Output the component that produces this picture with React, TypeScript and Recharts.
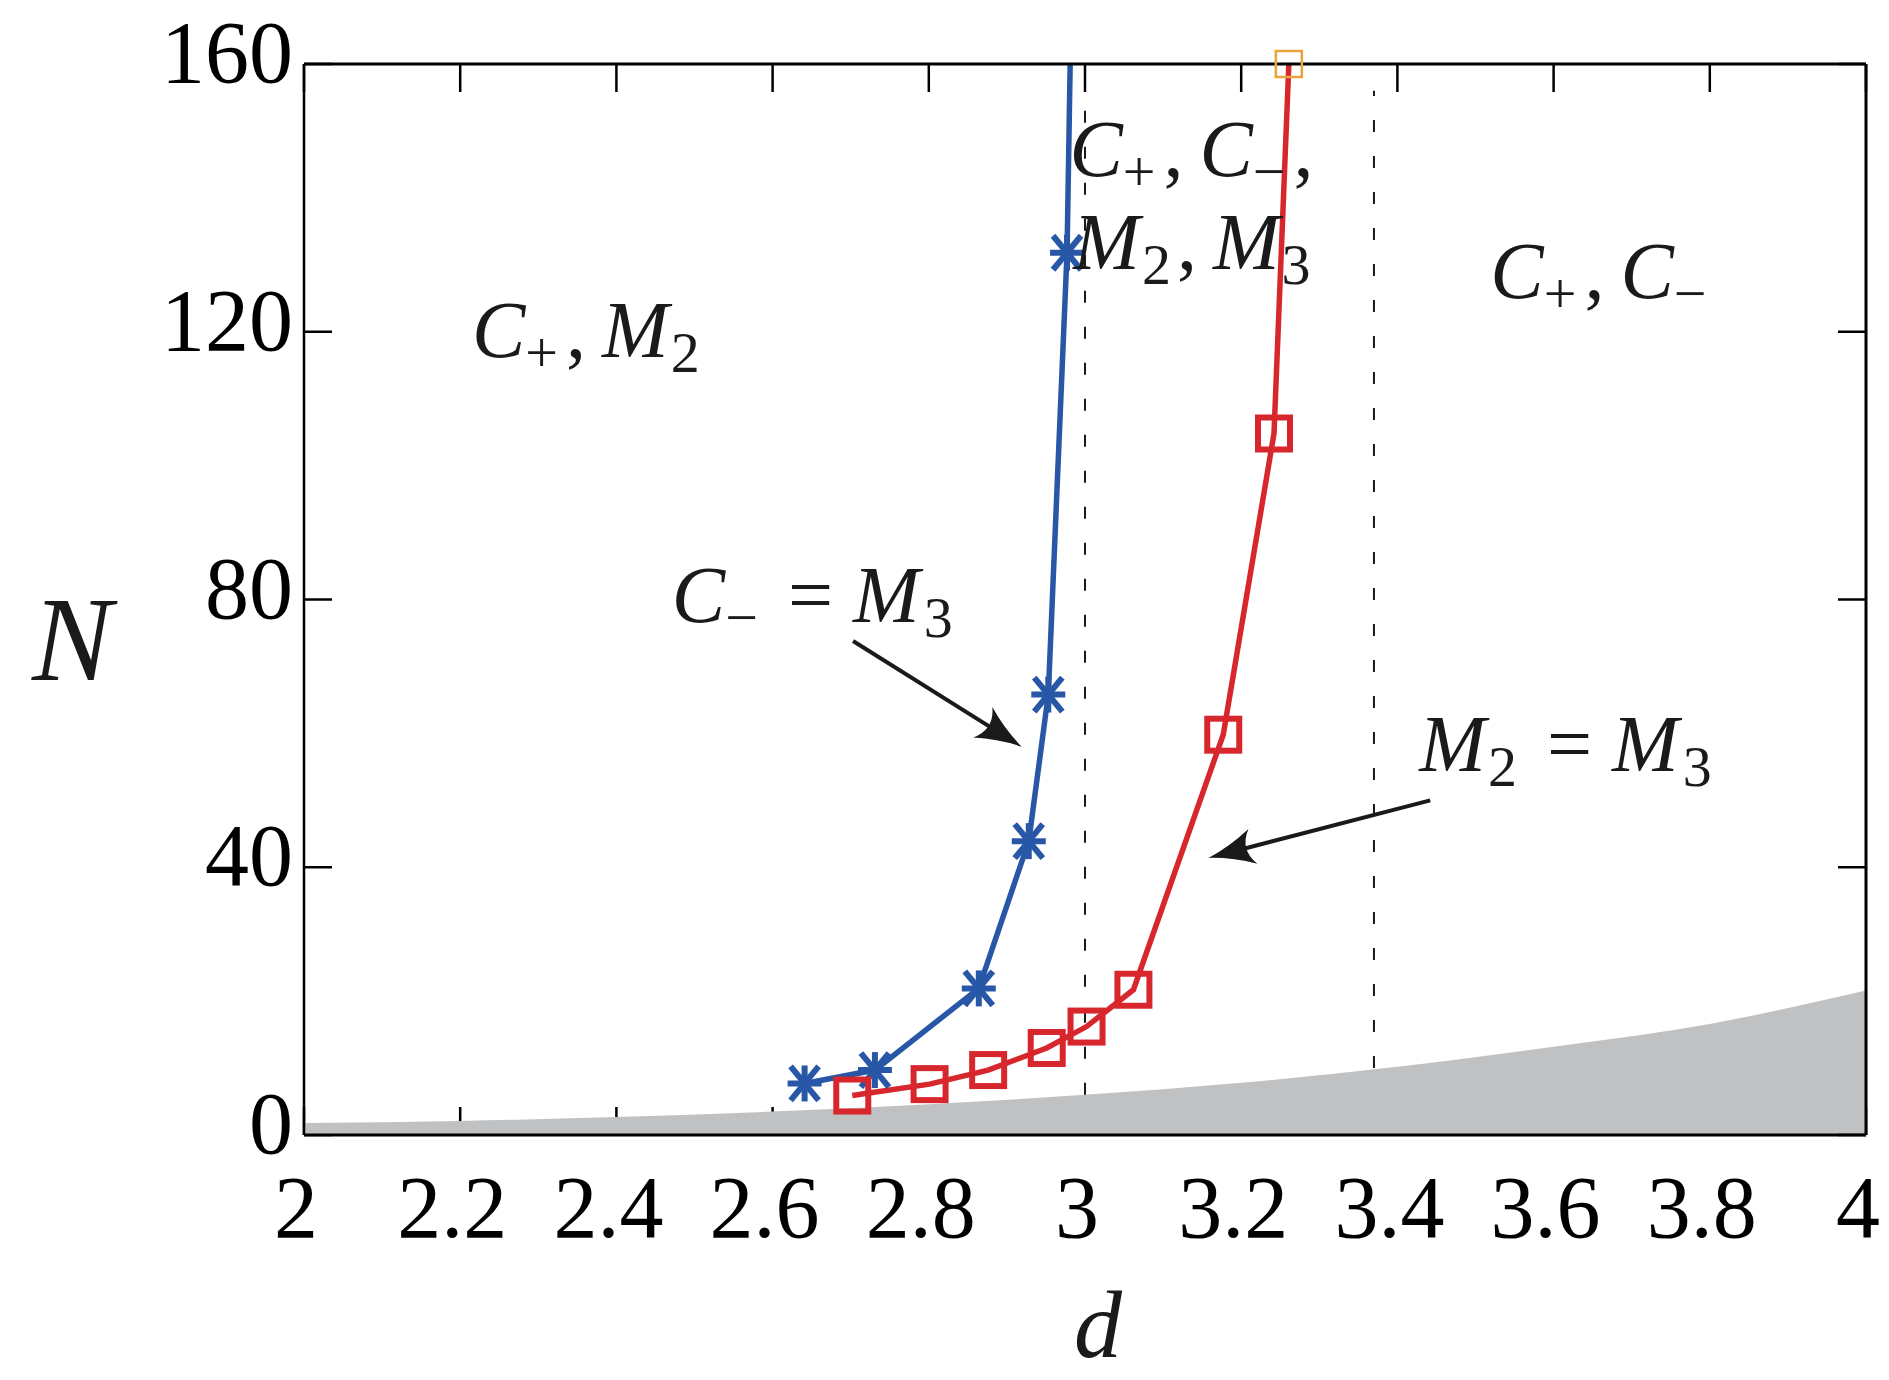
import { ComposedChart, Line, Area, XAxis, YAxis, ReferenceLine, ReferenceDot, Label } from 'recharts';

// axes
const D_TICKS = [2, 2.2, 2.4, 2.6, 2.8, 3, 3.2, 3.4, 3.6, 3.8, 4];
const N_TICKS = [0, 40, 80, 120, 160];

// C- = M3 boundary (asterisks); the last point is the unmarked run-off to the top
const blueD = [2.641, 2.731, 2.864, 2.928, 2.953, 2.977, 2.981];
const blueN = [7.7, 9.7, 21.9, 43.9, 65.8, 131.8, 160];

// M2 = M3 boundary (squares); the last point sits on the top edge
const redD = [2.702, 2.801, 2.876, 2.951, 3.002, 3.062, 3.177, 3.242, 3.261];
const redN = [5.9, 7.6, 9.7, 13.0, 16.2, 21.7, 59.8, 104.8, 160];

// grey excluded region under the curve
const shadeD = [2, 2.2, 2.4, 2.6, 2.8, 3, 3.2, 3.4, 3.6, 3.8, 4];
const shadeN = [1.8, 2.1, 2.7, 3.5, 4.6, 6.0, 7.8, 10.2, 13.2, 16.6, 21.6];

// dashed dividers: d position, where they meet the grey region, top end
const dividerD = [3.0, 3.37];
const dividerLow = [6.0, 10.0];
const dividerHigh = [156, 156];

const blue = blueD.map((d, i) => ({ d, N: blueN[i], mark: i < blueD.length - 1 }));
const red = redD.map((d, i) => ({ d, N: redN[i], edge: i === redD.length - 1 }));
const shade = shadeD.map((d, i) => ({ d, N: shadeN[i] }));

const BLUE = '#2757a6';
const RED = '#d8262d';
const ORANGE = '#e9a43b';
const GREY = '#c0c1c3';
const INK = '#1a1a1a';
const SERIF = 'Liberation Serif, Times New Roman, serif';

type Tok = { t: string; it?: boolean; sub?: boolean; dx?: number };

// region annotations, anchored at (d, N) = left end of the baseline
const notes: { d: number; N: number; toks: Tok[] }[] = [
  { d: 2.215, N: 116.2, toks: [{ t: 'C', it: true }, { t: '+', sub: true }, { t: ',', dx: 8 }, { t: 'M', it: true, dx: 16 }, { t: '2', sub: true, dx: 2 }] },
  { d: 2.98, N: 143.3, toks: [{ t: 'C', it: true }, { t: '+', sub: true }, { t: ',', dx: 8 }, { t: 'C', it: true, dx: 16 }, { t: '\u2212', sub: true }, { t: ',', dx: 8 }] },
  { d: 2.985, N: 129.4, toks: [{ t: 'M', it: true }, { t: '2', sub: true, dx: 2 }, { t: ',', dx: 6 }, { t: 'M', it: true, dx: 16 }, { t: '3', sub: true, dx: 2 }] },
  { d: 3.519, N: 125.0, toks: [{ t: 'C', it: true }, { t: '+', sub: true }, { t: ',', dx: 8 }, { t: 'C', it: true, dx: 16 }, { t: '\u2212', sub: true }] },
  { d: 2.471, N: 76.6, toks: [{ t: 'C', it: true }, { t: '\u2212', sub: true }, { t: '=', dx: 30 }, { t: 'M', it: true, dx: 20 }, { t: '3', sub: true, dx: 4 }] },
  { d: 3.428, N: 54.4, toks: [{ t: 'M', it: true }, { t: '2', sub: true, dx: 2 }, { t: '=', dx: 30 }, { t: 'M', it: true, dx: 20 }, { t: '3', sub: true, dx: 4 }] },
];

// pointer arrows: tail -> tip
const arrows = [
  { from: { x: 2.703, y: 73.8 }, to: { x: 2.919, y: 58.0 } },
  { from: { x: 3.442, y: 50.0 }, to: { x: 3.158, y: 41.4 } },
];

function XTick(props: any) {
  const { x, y, payload } = props;
  return (
    <text x={x - 8} y={y + 102} textAnchor="middle" style={{ fontFamily: SERIF, fontSize: 88 }} fill="#000">
      {payload.value}
    </text>
  );
}

function YTick(props: any) {
  const { x, y, payload } = props;
  return (
    <text x={x - 11} y={y + 18} textAnchor="end" style={{ fontFamily: SERIF, fontSize: 88 }} fill="#000">
      {payload.value}
    </text>
  );
}

// top / right axes carry tick marks only
function NoLabel() {
  return <g />;
}

function Asterisk(props: any) {
  const { cx, cy, payload, index } = props;
  if (!payload.mark || cx == null) return <g key={`b-${index}`} />;
  const a = 14;
  const b = 17;
  return (
    <g key={`b-${index}`} stroke={BLUE} strokeWidth={6} strokeLinecap="butt">
      <line x1={cx - a} y1={cy - b} x2={cx + a} y2={cy + b} />
      <line x1={cx - a} y1={cy + b} x2={cx + a} y2={cy - b} />
      <line x1={cx - 17} y1={cy} x2={cx + 17} y2={cy} />
      <line x1={cx} y1={cy - 18} x2={cx} y2={cy + 18} />
    </g>
  );
}

function Square(props: any) {
  const { cx, cy, payload, index } = props;
  if (cx == null) return <g key={`r-${index}`} />;
  const h = 16;
  if (payload.edge) {
    return <rect key={`r-${index}`} x={cx - 13} y={cy - 13} width={26} height={26} fill="none" stroke={ORANGE} strokeWidth={2.5} />;
  }
  return <rect key={`r-${index}`} x={cx - h} y={cy - h} width={2 * h} height={2 * h} fill="none" stroke={RED} strokeWidth={6} />;
}

function MathText(props: any) {
  const { cx, cy, toks } = props;
  let shift = 0;
  return (
    <text x={cx} y={cy} style={{ fontFamily: SERIF, fontSize: 80 }} fill={INK}>
      {toks.map((k: Tok, i: number) => {
        const want = k.sub ? 15 : 0;
        const dy = want - shift;
        shift = want;
        return (
          <tspan key={i} dx={k.dx || 0} dy={dy} style={{ fontStyle: k.it ? 'italic' : 'normal', fontSize: k.sub ? 58 : 80 }}>
            {k.t}
          </tspan>
        );
      })}
    </text>
  );
}

function Arrow(props: any) {
  const { x1, y1, x2, y2 } = props;
  if (x1 == null) return <g />;
  const ang = Math.atan2(y2 - y1, x2 - x1);
  const c = Math.cos(ang);
  const s = Math.sin(ang);
  const L = 46;
  const W = 18;
  const pt = (u: number, v: number) => `${x2 + u * c - v * s},${y2 + u * s + v * c}`;
  const head = `M${pt(0, 0)} Q${pt(-L * 0.5, W * 0.3)} ${pt(-L, W)} Q${pt(-L * 0.7, 0)} ${pt(-L, -W)} Q${pt(-L * 0.5, -W * 0.3)} ${pt(0, 0)} Z`;
  return (
    <g>
      <line x1={x1} y1={y1} x2={x2 - L * 0.6 * c} y2={y2 - L * 0.6 * s} stroke={INK} strokeWidth={4} />
      <path d={head} fill={INK} />
    </g>
  );
}

export default function App() {
  return (
    <div style={{ position: 'absolute', left: 0, top: 0, width: 1889, height: 1380, background: '#fff', overflow: 'hidden' }}>
      <ComposedChart width={1889} height={1380} margin={{ top: 63, right: 22, bottom: 145, left: 104 }}>
        <XAxis
          type="number"
          dataKey="d"
          domain={[2, 4]}
          ticks={D_TICKS}
          height={100}
          tickSize={-28}
          tickMargin={28}
          tick={<XTick />}
          tickLine={{ stroke: '#000', strokeWidth: 2.5 }}
          axisLine={false}
          zIndex={50}
        >
          <Label
            content={(p: any) => {
              const vb = p.viewBox || { x: 304, y: 1135, width: 1562 };
              return (
                <text x={vb.x + vb.width / 2 + 13} y={vb.y + 222} textAnchor="middle" style={{ fontFamily: SERIF, fontStyle: 'italic', fontSize: 96 }} fill={INK}>
                  d
                </text>
              );
            }}
          />
        </XAxis>
        <YAxis
          type="number"
          domain={[0, 160]}
          ticks={N_TICKS}
          width={200}
          tickSize={-28}
          tickMargin={28}
          tick={<YTick />}
          tickLine={{ stroke: '#000', strokeWidth: 2.5 }}
          axisLine={false}
          zIndex={50}
        >
          <Label
            content={(p: any) => {
              const vb = p.viewBox || { x: 104, y: 64, width: 200, height: 1071 };
              return (
                <text x={vb.x + vb.width - 232} y={680} textAnchor="middle" style={{ fontFamily: SERIF, fontStyle: 'italic', fontSize: 120 }} fill={INK}>
                  N
                </text>
              );
            }}
          />
        </YAxis>
        <XAxis
          xAxisId="top"
          orientation="top"
          type="number"
          dataKey="d"
          domain={[2, 4]}
          ticks={D_TICKS}
          height={1}
          tickSize={-28}
          tickMargin={0}
          tick={<NoLabel />}
          tickLine={{ stroke: '#000', strokeWidth: 2.5 }}
          axisLine={{ stroke: '#000', strokeWidth: 3 }}
        />
        <YAxis
          yAxisId="right"
          orientation="right"
          type="number"
          domain={[0, 160]}
          ticks={N_TICKS}
          width={1}
          tickSize={-28}
          tickMargin={0}
          tick={<NoLabel />}
          tickLine={{ stroke: '#000', strokeWidth: 2.5 }}
          axisLine={{ stroke: '#000', strokeWidth: 3 }}
        />

        <Area
          data={shade}
          dataKey="N"
          type="monotone"
          stroke="none"
          fill={GREY}
          fillOpacity={1}
          isAnimationActive={false}
          zIndex={100}
        />

        <ReferenceLine y={0} stroke="#000" strokeWidth={3} zIndex={700} />
        <ReferenceLine x={2} stroke="#000" strokeWidth={2.5} zIndex={700} />

        {dividerD.map((d, i) => (
          <ReferenceLine
            key={`div-${i}`}
            segment={[{ x: d, y: dividerLow[i] }, { x: d, y: dividerHigh[i] }]}
            stroke={INK}
            strokeWidth={2}
            strokeDasharray="12 24"
          />
        ))}

        <Line
          data={blue}
          dataKey="N"
          xAxisId="top"
          yAxisId="right"
          type="linear"
          stroke={BLUE}
          strokeWidth={5.5}
          dot={Asterisk}
          activeDot={false}
          isAnimationActive={false}
        />
        <Line
          data={red}
          dataKey="N"
          type="linear"
          stroke={RED}
          strokeWidth={5.5}
          dot={Square}
          activeDot={false}
          isAnimationActive={false}
        />

        {arrows.map((a, i) => (
          <ReferenceLine key={`arr-${i}`} segment={[a.from, a.to]} shape={(p: any) => <Arrow {...p} />} zIndex={2000} />
        ))}

        {notes.map((n, i) => (
          <ReferenceDot
            key={`note-${i}`}
            x={n.d}
            y={n.N}
            r={0}
            shape={(p: any) => <MathText cx={p.cx} cy={p.cy} toks={n.toks} />}
            zIndex={2000}
          />
        ))}
      </ComposedChart>
    </div>
  );
}
